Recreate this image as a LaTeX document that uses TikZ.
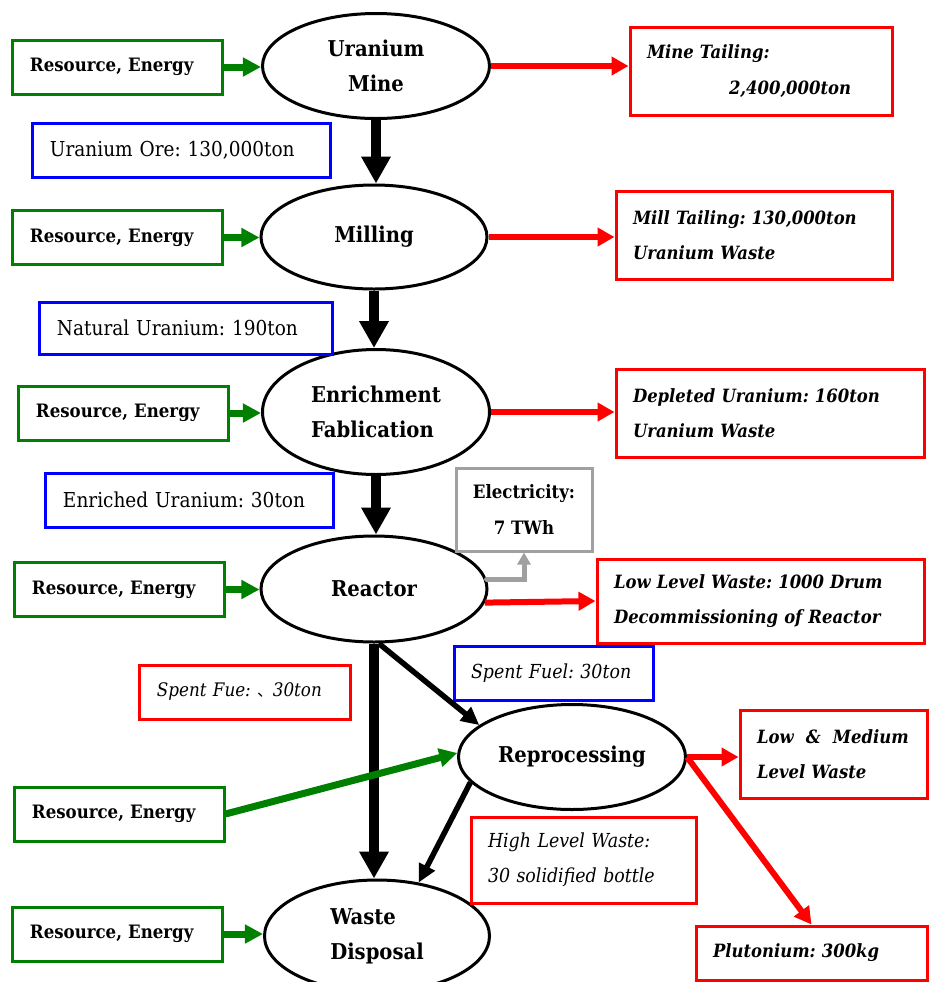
\documentclass[tikz,border=0pt]{standalone}
\usepackage{fontspec}
\setmainfont{DejaVu Serif}[FakeStretch=0.9]
\newfontfamily\cjk{Noto Sans CJK JP}
\usepackage{xcolor}
\definecolor{inputcolor}{RGB}{0,128,0}
\definecolor{wastecolor}{RGB}{255,0,0}
\definecolor{flowcolor}{RGB}{0,0,255}
\definecolor{powercolor}{RGB}{160,160,160}
\usepackage{tikz}
\usetikzlibrary{arrows.meta,shapes.geometric}
\frenchspacing

\tikzset{
  stage/.style={ellipse, draw, line width=0.6mm, inner sep=0pt, align=center, font=\bfseries\fontsize{12.4}{20}\selectfont},
  tbox/.style 2 args={rectangle, draw, line width=0.6mm, minimum width=#1, minimum height=#2, inner xsep=3.4mm, inner ysep=0pt, text width={#1-6.8mm}, align=left},
  resbox/.style={tbox={41.8mm}{10.8mm}, draw=inputcolor, font=\bfseries\fontsize{10.5}{20}\selectfont},
  flowbox/.style 2 args={tbox={#1}{#2}, draw=flowcolor, font=\fontsize{11.7}{20}\selectfont},
  wastebox/.style 2 args={tbox={#1}{#2}, draw=wastecolor, font=\bfseries\itshape\fontsize{10.4}{20}\selectfont},
  powerbox/.style={rectangle, draw=powercolor, line width=0.6mm, minimum width=27.2mm, minimum height=16.6mm, inner sep=0pt, align=center, font=\bfseries\fontsize{10.5}{20}\selectfont},
  mainflow/.style={-{Triangle[length=5.4mm,width=5.6mm]}, line width=2mm},
  sideflow/.style={-{Triangle[length=3.6mm,width=3.4mm]}, line width=1.1mm},
  inflow/.style={-{Triangle[length=3.6mm,width=3.6mm]}, line width=1.4mm, color=inputcolor},
  outflow/.style={-{Triangle[length=3.4mm,width=3.6mm]}, line width=1.2mm, color=wastecolor},
  powerflow/.style={-{Triangle[length=2.4mm,width=2.6mm]}, line width=1mm, color=powercolor, line cap=round},
}

\begin{document}
\begin{tikzpicture}[x=0.2mm, y=-0.2mm]
  \useasboundingbox (0,0) rectangle (929,982);
  \clip (0,0) rectangle (929,982);

  % process stages
  \node[stage, minimum width=45.4mm, minimum height=21mm] (mine) at (376,66) {Uranium\\Mine};
  \node[stage, minimum width=45.2mm, minimum height=20.8mm] (mill) at (374,237) {Milling};
  \node[stage, minimum width=45.4mm, minimum height=25mm, align=left] (enrich) at (376,412) {Enrichment\\Fablication};
  \node[stage, minimum width=45.2mm, minimum height=21.2mm] (reactor) at (374,589) {Reactor};
  \node[stage, minimum width=45.4mm, minimum height=21mm] (repro) at (572,757) {Reprocessing};
  \node[stage, minimum width=45mm, minimum height=22.4mm, align=left] (waste) at (377,936) {Waste\\Disposal};

  % inputs
  \node[resbox] (resMine) at (117.5,67) {Resource, Energy};
  \node[resbox] (resMill) at (117.5,237.5) {Resource, Energy};
  \node[resbox] (resEnrich) at (123.5,413) {Resource, Energy};
  \node[resbox] (resReactor) at (119.5,589.5) {Resource, Energy};
  \node[resbox] (resRepro) at (119.5,814) {Resource, Energy};
  \node[resbox] (resWaste) at (117.5,934) {Resource, Energy};

  % material flows
  \node[flowbox={59.4mm}{10.8mm}] (ore) at (181.5,150) {Uranium Ore: 130,000ton};
  \node[flowbox={58.4mm}{10.4mm}] (natural) at (186,328) {Natural Uranium: 190ton};
  \node[flowbox={57.4mm}{10.8mm}] (enriched) at (189.5,500) {Enriched Uranium: 30ton};
  \node[flowbox={39.8mm}{10.8mm}, font=\itshape\fontsize{11}{20}\selectfont] (spentFuel) at (553.5,673) {Spent Fuel: 30ton};

  % wastes and products
  \node[wastebox={52.4mm}{17.6mm}] (tailMine) at (761,71) {Mine Tailing:\\\hspace*{16.4mm}2,400,000ton};
  \node[wastebox={55.2mm}{17.6mm}] (tailMill) at (754,235) {Mill Tailing: 130,000ton\\Uranium Waste};
  \node[wastebox={61.6mm}{17.6mm}] (depleted) at (770,413) {Depleted Uranium: 160ton\\Uranium Waste};
  \node[wastebox={65.4mm}{16.8mm}] (lowLevel) at (760.5,601) {Low Level Waste: 1000 Drum\\Decommissioning of Reactor};
  \node[wastebox={42mm}{10.8mm}, font=\itshape\fontsize{10.6}{20}\selectfont] (spentWaste) at (245,692) {\mbox{Spent Fue: {\cjk\fontsize{9}{20}\selectfont 、}30ton}};
  \node[wastebox={37.4mm}{17.6mm}] (medium) at (833.5,754) {Low\ \ \&\ \ Medium\\Level Waste};
  \node[wastebox={45mm}{17.2mm}, font=\itshape\fontsize{11}{20}\selectfont] (highLevel) at (583.5,860) {High Level Waste:\\30 solidified bottle};
  \node[wastebox={46.2mm}{10.8mm}] (pluto) at (811.5,953) {Plutonium: 300kg};

  \node[powerbox] (elec) at (524,509.5) {Electricity:\\7 TWh};

  % main chain
  \draw[mainflow] (mine.south) -- (mine.south |- mill.north);
  \draw[mainflow] (mill.south) -- (mill.south |- enrich.north);
  \draw[mainflow] (enrich.south) -- (enrich.south |- reactor.north);
  \draw[mainflow] (reactor.south) -- (reactor.south |- waste.north);
  \draw[sideflow] (reactor.-85) -- (repro.161);
  \draw[sideflow] (repro.194) -- (waste.52);

  \draw[inflow] (resMine.east) -- (resMine.east -| mine.west);
  \draw[inflow] (resMill.east) -- (resMill.east -| mill.west);
  \draw[inflow] (resEnrich.east) -- (resEnrich.east -| enrich.west);
  \draw[inflow] (resReactor.east) -- (resReactor.east -| reactor.west);
  \draw[inflow] (resRepro.east) -- (repro.178);
  \draw[inflow] (resWaste.east) -- (resWaste.east -| waste.west);

  \draw[outflow] (mine.east) -- (mine.east -| tailMine.west);
  \draw[outflow] (mill.east) -- (mill.east -| tailMill.west);
  \draw[outflow] (enrich.east) -- (enrich.east -| depleted.west);
  \draw[outflow] (reactor.-7) -- (lowLevel.west);
  \draw[outflow] (repro.east) -- (repro.east -| medium.west);
  \draw[outflow] (repro.east) -- (pluto.north);

  \draw[powerflow] (reactor.5) -| (elec.south);
\end{tikzpicture}
\end{document}
